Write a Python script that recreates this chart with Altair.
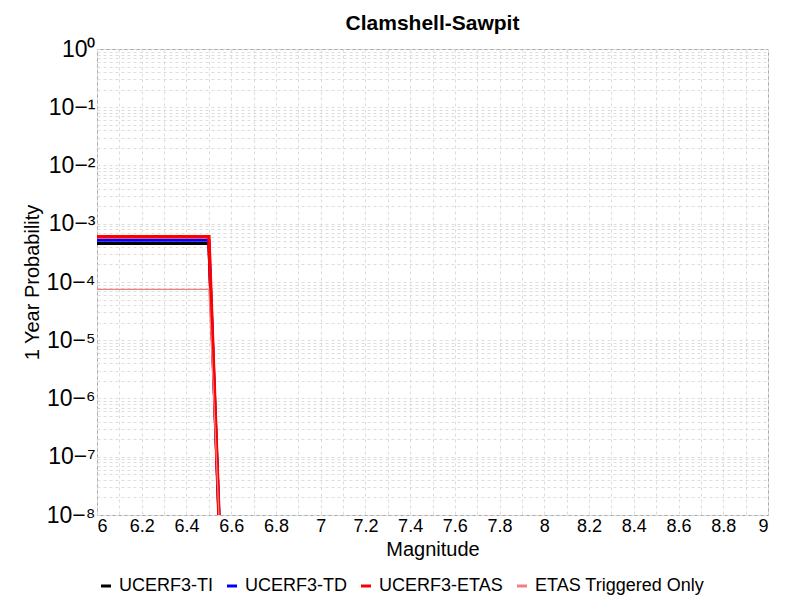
import altair as alt
import pandas as pd

series = ["UCERF3-TI", "UCERF3-TD", "UCERF3-ETAS", "ETAS Triggered Only"]
colors = ["black", "blue", "red", "#f08080"]
widths = [3, 3, 3.5, 1.2]
levels = [4.6e-4, 5.2e-4, 6.0e-4, 7.5e-5]
mags = [6.0, 6.5, 6.545]
drop = [None, None, 1e-8]

rows = []
for s, lv, w in zip(series, levels, widths):
    for m, d in zip(mags, drop):
        rows.append({"series": s, "mag": m, "prob": lv if d is None else d, "w": w})
df = pd.DataFrame(rows)

yvals = [k * 10.0 ** e for e in range(-8, 0) for k in range(1, 10)] + [1.0]
xminor = [round(6 + 0.1 * i, 1) for i in range(31)]

labexpr = ("abs(log(datum.value)/log(10) - round(log(datum.value)/log(10))) < 1e-6 ? "
           "'10' + replace(replace(replace(replace(replace(replace(replace(replace(replace(replace("
           "format(round(log(datum.value)/log(10)),'d'),'-','⁻'),'0','⁰'),'1','¹'),'2','²'),'3','³'),'4','⁴'),'5','⁵'),'6','⁶'),'7','⁷'),'8','⁸') : ''")

chart = alt.Chart(df).mark_line(clip=True, interpolate="linear").encode(
    x=alt.X("mag:Q", title="Magnitude", scale=alt.Scale(domain=[6, 9], nice=False),
            axis=alt.Axis(values=xminor, labelExpr="abs(datum.value*5 - round(datum.value*5)) < 1e-6 ? format(datum.value, '~g') : ''",
                          gridDash=[3, 3], gridColor="#dddddd", labelFontSize=18, titleFontSize=20,
                          titleFontWeight="normal", labelColor="black", tickSize=0, domain=False)),
    y=alt.Y("prob:Q", title="1 Year Probability", scale=alt.Scale(type="log", domain=[1e-8, 1], nice=False),
            axis=alt.Axis(values=yvals, labelExpr=labexpr, gridDash=[3, 3], gridColor="#dddddd",
                          labelFontSize=23, titleFontSize=20, titleFontWeight="normal",
                          labelColor="black", tickSize=0, domain=False, labelOverlap=False)),
    color=alt.Color("series:N", scale=alt.Scale(domain=series, range=colors),
                    legend=alt.Legend(orient="bottom", title=None, direction="horizontal",
                                      labelFontSize=18, symbolType="stroke", symbolStrokeWidth=3,
                                      columnPadding=8, labelLimit=300)),
    strokeWidth=alt.StrokeWidth("w:Q", scale=None),
).properties(
    width=671, height=466, padding={"left": 14, "top": 5, "right": 5, "bottom": 5},
    title=alt.TitleParams("Clamshell-Sawpit", fontSize=21, fontWeight="bold", font="Liberation Sans"),
).configure(font="Liberation Sans").configure_view(stroke="#aaaaaa")

chart.save("out.html", embed_options={"renderer": "svg", "actions": False})
